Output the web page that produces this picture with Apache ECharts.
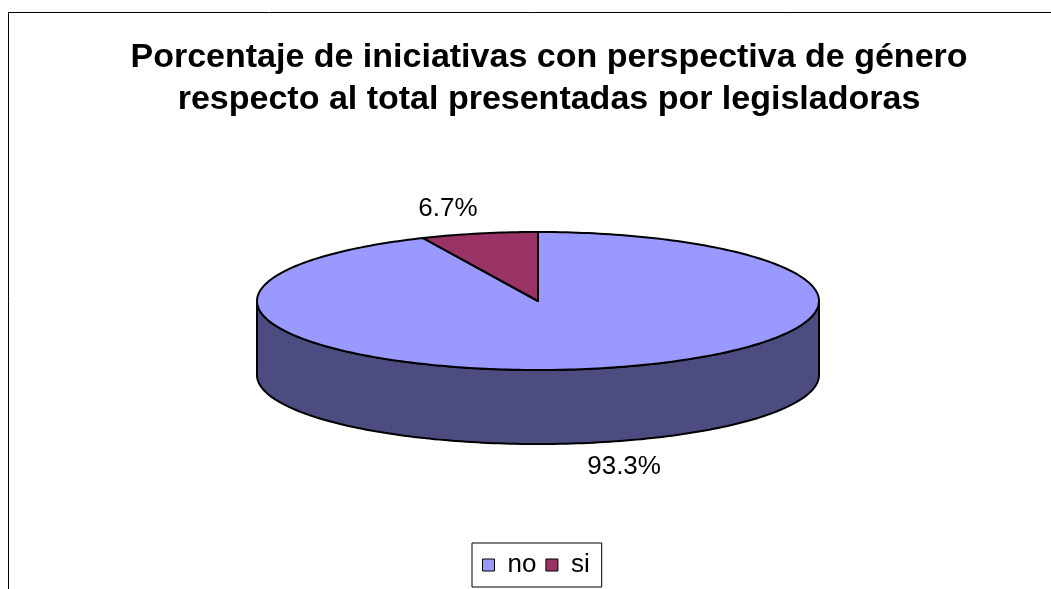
<!DOCTYPE html>
<html>
<head>
<meta charset="utf-8">
<style>
  html, body { margin: 0; padding: 0; background: #fff; }
  #chart { width: 1051px; height: 589px; }
</style>
<script src="https://cdn.jsdelivr.net/npm/echarts@6/dist/echarts.min.js"></script>
</head>
<body>
<div id="chart"></div>
<script>
// datos del gráfico
var categories = ['no', 'si'];
var values = [93.3, 6.7];

// estilos
var topColors = ['#9999FF', '#993366'];
var sideColors = ['#4C4C80', '#4D1933'];
var DEPTH = 74;          // grosor del pastel en px
var FONT = 'Liberation Sans, Arial, sans-serif';

var total = values.reduce(function (a, b) { return a + b; }, 0);

function sliceAngles(i) {
    var before = 0;
    for (var k = 0; k < i; k++) before += values[k];
    var a0 = before / total * Math.PI * 2;
    return [a0, a0 + values[i] / total * Math.PI * 2];
}

function arc(api, a0, a1, dy) {
    var pts = [];
    var n = Math.max(2, Math.ceil((a1 - a0) / 0.02));
    for (var k = 0; k <= n; k++) {
        var t = a0 + (a1 - a0) * k / n;
        var p = api.coord([Math.sin(t), Math.cos(t)]);
        pts.push([p[0], p[1] + (dy || 0)]);
    }
    return pts;
}

function renderSlice(params, api) {
    var i = params.seriesIndex;
    var ang = sliceAngles(i);
    var center = api.coord([0, 0]);
    var children = [];

    // pared lateral visible (mitad frontal)
    var s0 = Math.max(ang[0], Math.PI / 2);
    var s1 = Math.min(ang[1], Math.PI * 3 / 2);
    if (s0 < s1) {
        var upper = arc(api, s0, s1, 0);
        var lower = arc(api, s0, s1, DEPTH).reverse();
        children.push({
            type: 'polygon',
            z2: 1,
            shape: { points: upper.concat(lower) },
            style: { fill: sideColors[i], stroke: '#000', lineWidth: 2 }
        });
    }

    // cara superior
    children.push({
        type: 'polygon',
        z2: 2,
        shape: { points: [center].concat(arc(api, ang[0], ang[1], 0)) },
        style: { fill: topColors[i], stroke: '#000', lineWidth: 2, lineJoin: 'round' }
    });

    // etiqueta de porcentaje
    var mid = (ang[0] + ang[1]) / 2;
    var lp = api.coord([Math.sin(mid) * 1.5, Math.cos(mid) * 1.36]);
    if (Math.cos(mid) < 0) lp[1] += DEPTH;
    children.push({
        type: 'text',
        z2: 3,
        x: lp[0] - 2,
        y: lp[1],
        style: {
            text: values[i].toFixed(1) + '%',
            fill: '#000',
            font: '26px ' + FONT,
            align: 'center',
            verticalAlign: 'middle'
        }
    });

    return { type: 'group', children: children };
}

var myChart = echarts.init(document.getElementById('chart'));

var option = {
    animation: false,
    backgroundColor: '#fff',
    title: {
        text: 'Porcentaje de iniciativas con perspectiva de género\nrespecto al total presentadas por legisladoras',
        left: 544,
        top: 32,
        textAlign: 'center',
        textStyle: {
            fontFamily: FONT,
            fontSize: 34,
            fontWeight: 'bold',
            lineHeight: 42,
            color: '#000'
        }
    },
    legend: {
        data: categories,
        left: 472,
        top: 543,
        padding: [9, 12, 9, 10],
        itemGap: 9,
        itemWidth: 12,
        itemHeight: 12,
        icon: 'rect',
        borderColor: '#000',
        borderWidth: 1,
        backgroundColor: '#fff',
        itemStyle: { borderColor: '#000', borderWidth: 1 },
        textStyle: { fontFamily: FONT, fontSize: 26, color: '#000', padding: [0, 0, 0, 8] }
    },
    grid: { left: 257, top: 232, width: 562, height: 138 },
    xAxis: { type: 'value', min: -1, max: 1, show: false },
    yAxis: { type: 'value', min: -1, max: 1, show: false },
    graphic: [{
        type: 'rect',
        silent: true,
        z: -1,
        shape: { x: 8.5, y: 12.5, width: 1100, height: 700 },
        style: { fill: 'none', stroke: '#000', lineWidth: 1 }
    }],
    series: categories.map(function (name, i) {
        return {
            name: name,
            type: 'custom',
            coordinateSystem: 'cartesian2d',
            itemStyle: { color: topColors[i] },
            data: [[0, 0]],
            renderItem: renderSlice
        };
    })
};

myChart.setOption(option);
</script>
</body>
</html>
